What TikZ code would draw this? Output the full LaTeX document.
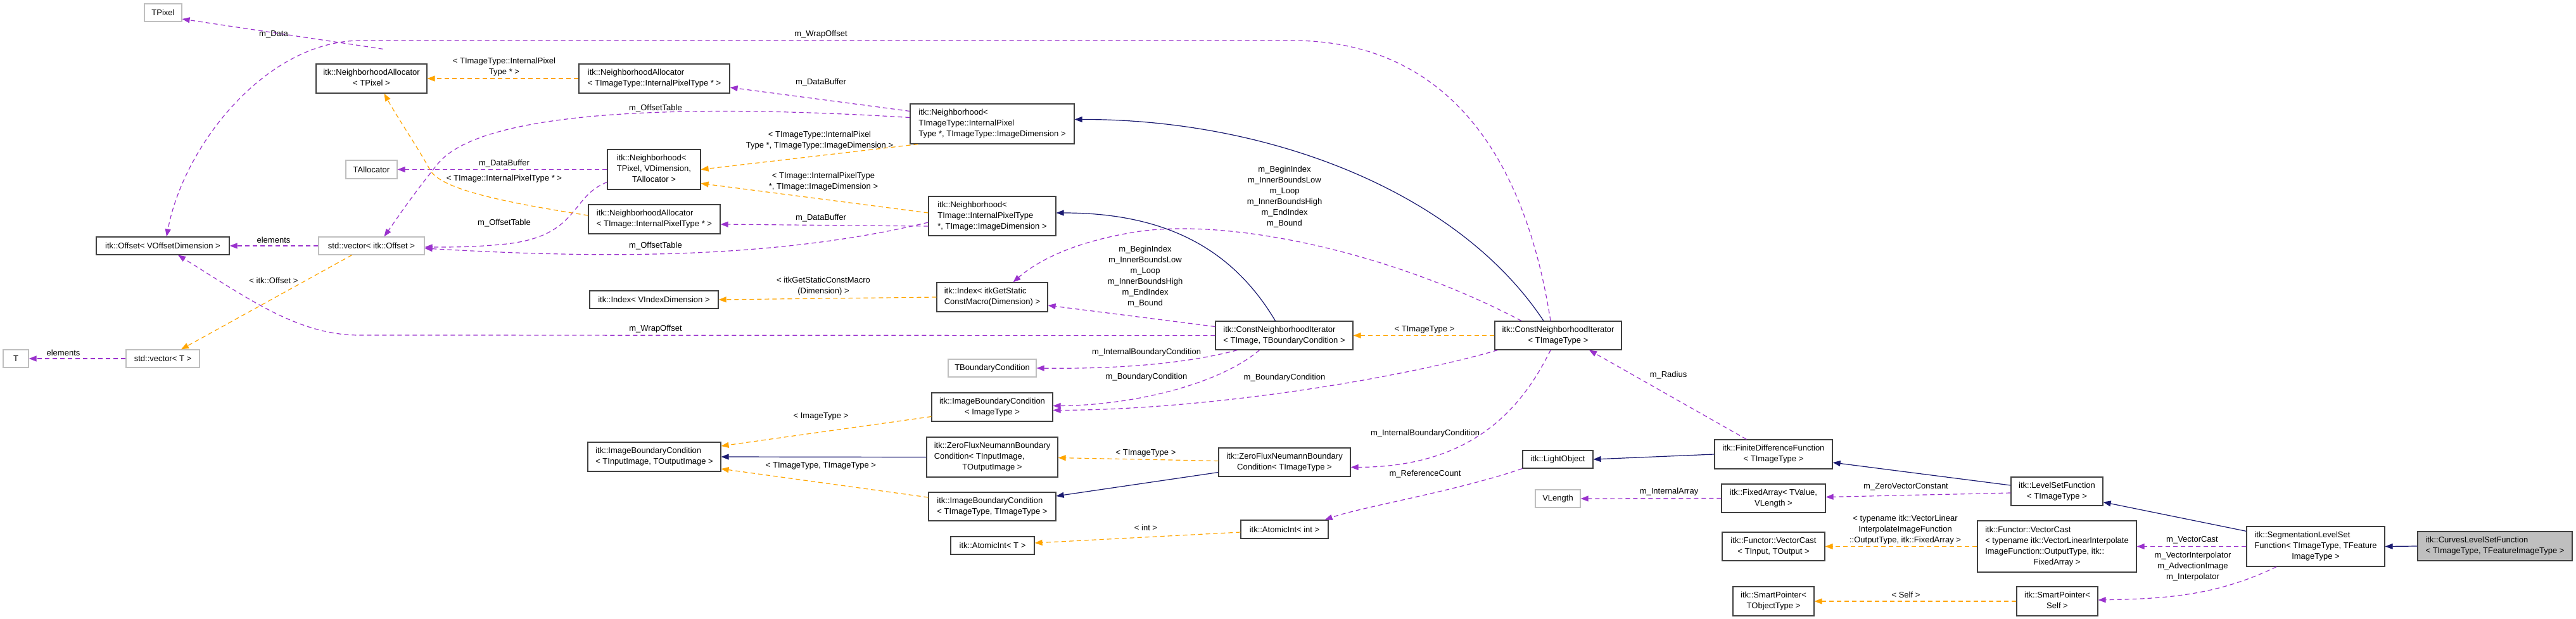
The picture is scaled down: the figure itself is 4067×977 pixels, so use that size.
\documentclass[tikz,border=0pt]{standalone}
\usepackage{fontspec}
\setmainfont{Liberation Sans}
\usetikzlibrary{arrows.meta}
\definecolor{pur}{HTML}{9A32CD}
\definecolor{org}{HTML}{FFA500}
\definecolor{nav}{HTML}{191970}
\definecolor{gbd}{HTML}{BFBFBF}
\newcommand\mylines[2]{\begin{tabular}{@{}l@{}}#1\\\multicolumn{1}{@{}c@{}}{#2}\end{tabular}}
\begin{document}
\begin{tikzpicture}[x=1pt,y=-1pt,
  every node/.style={font=\fontsize{13}{17}\selectfont},
  box/.style={draw=black!75,line width=1.2pt,fill=white,inner sep=0pt,align=center},
  gbox/.style={box,draw=gbd},
  mbox/.style={box,fill=gbd},
  lbl/.style={align=center,inner sep=0pt},
  tip/.style={-{Triangle[length=12pt,width=9pt]}},
  use/.style={tip,draw=pur,line width=1.2pt,dash pattern=on 7pt off 5pt},
  tpl/.style={tip,draw=org,line width=1.2pt,dash pattern=on 7pt off 5pt},
  inh/.style={tip,draw=nav,line width=1.2pt}]
\useasboundingbox (0,0) rectangle (4067,977);
% nodes
\node[gbox,minimum width=59pt,minimum height=28pt] (tpix) at (257.5,20) {TPixel};
\node[box,minimum width=175pt,minimum height=46pt] (naP) at (586.5,124) {\mylines{itk::NeighborhoodAllocator}{< TPixel >}};
\node[gbox,minimum width=81pt,minimum height=29pt] (talloc) at (586.5,267.5) {TAllocator};
\node[box,minimum width=210pt,minimum height=28pt] (off) at (257,388) {itk::Offset< VOffsetDimension >};
\node[gbox,minimum width=167pt,minimum height=28pt] (vecO) at (586.5,388) {std::vector< itk::Offset >};
\node[gbox,minimum width=40pt,minimum height=28pt] (T) at (25,566) {T};
\node[gbox,minimum width=116pt,minimum height=28pt] (vecT) at (257,566) {std::vector< T >};
\node[box,minimum width=238pt,minimum height=46pt] (naT) at (1033,124) {\mylines{itk::NeighborhoodAllocator}{< TImageType::InternalPixelType * >}};
\node[box,minimum width=147pt,minimum height=63pt] (nbhP) at (1032.5,267.5) {\mylines{itk::Neighborhood<\\ TPixel, VDimension,}{TAllocator >}};
\node[box,minimum width=208pt,minimum height=46pt] (naI) at (1033,346) {\mylines{itk::NeighborhoodAllocator}{< TImage::InternalPixelType * >}};
\node[box,minimum width=203pt,minimum height=28pt] (idxV) at (1032.5,473) {itk::Index< VIndexDimension >};
\node[box,minimum width=210pt,minimum height=46pt] (ibcIO) at (1033,721) {\mylines{itk::ImageBoundaryCondition}{< TInputImage, TOutputImage >}};
\node[box,minimum width=259pt,minimum height=63pt] (nbhT) at (1566.5,195.5) {\mylines{itk::Neighborhood<\\ TImageType::InternalPixel}{Type *, TImageType::ImageDimension >}};
\node[box,minimum width=201pt,minimum height=62pt] (nbhI) at (1566.5,341) {\mylines{itk::Neighborhood<\\ TImage::InternalPixelType}{*, TImage::ImageDimension >}};
\node[box,minimum width=175pt,minimum height=46pt] (idxG) at (1566.5,469) {\mylines{itk::Index< itkGetStatic}{ConstMacro(Dimension) >}};
\node[gbox,minimum width=139pt,minimum height=28pt] (tbc) at (1566.5,581) {TBoundaryCondition};
\node[box,minimum width=191pt,minimum height=45pt] (ibcI) at (1566.5,642.5) {\mylines{itk::ImageBoundaryCondition}{< ImageType >}};
\node[box,minimum width=207pt,minimum height=63pt] (zfIO) at (1566.5,721.5) {\mylines{itk::ZeroFluxNeumannBoundary\\Condition< TInputImage,}{TOutputImage >}};
\node[box,minimum width=201pt,minimum height=45pt] (ibcTT) at (1566.5,799.5) {\mylines{itk::ImageBoundaryCondition}{< TImageType, TImageType >}};
\node[box,minimum width=132pt,minimum height=28pt] (aiT) at (1567,861) {itk::AtomicInt< T >};
\node[box,minimum width=217pt,minimum height=45pt] (cniTB) at (2027.5,529.5) {\mylines{itk::ConstNeighborhoodIterator}{< TImage, TBoundaryCondition >}};
\node[box,minimum width=208pt,minimum height=45pt] (zfT) at (2028,729.5) {\mylines{itk::ZeroFluxNeumannBoundary}{Condition< TImageType >}};
\node[box,minimum width=138pt,minimum height=29pt] (aiInt) at (2028,835.5) {itk::AtomicInt< int >};
\node[box,minimum width=200pt,minimum height=45pt] (cniT) at (2460,529.5) {\mylines{itk::ConstNeighborhoodIterator}{< TImageType >}};
\node[box,minimum width=111pt,minimum height=28pt] (lo) at (2459.5,725) {itk::LightObject};
\node[gbox,minimum width=71pt,minimum height=28pt] (vl) at (2459.5,787) {VLength};
\node[box,minimum width=186pt,minimum height=46pt] (fd) at (2800,717) {\mylines{itk::FiniteDifferenceFunction}{< TImageType >}};
\node[box,minimum width=164pt,minimum height=45pt] (fa) at (2800,786.5) {\mylines{itk::FixedArray< TValue,}{VLength >}};
\node[box,minimum width=162pt,minimum height=45pt] (vcT) at (2800,862.5) {\mylines{itk::Functor::VectorCast}{< TInput, TOutput >}};
\node[box,minimum width=128pt,minimum height=46pt] (spO) at (2800,949) {\mylines{itk::SmartPointer<}{TObjectType >}};
\node[box,minimum width=145pt,minimum height=45pt] (lsf) at (3247.5,775.5) {\mylines{itk::LevelSetFunction}{< TImageType >}};
\node[box,minimum width=251pt,minimum height=81pt] (vcI) at (3247.5,862.5) {\mylines{itk::Functor::VectorCast\\< typename itk::VectorLinearInterpolate\\ImageFunction::OutputType, itk::}{FixedArray >}};
\node[box,minimum width=128pt,minimum height=46pt] (spS) at (3248,949) {\mylines{itk::SmartPointer<}{Self >}};
\node[box,minimum width=218pt,minimum height=63pt] (seg) at (3656,862.5) {\mylines{itk::SegmentationLevelSet\\Function< TImageType, TFeature}{ImageType >}};
\node[mbox,minimum width=244pt,minimum height=46pt] (curves) at (3939,862) {\mylines{itk::CurvesLevelSetFunction}{< TImageType, TFeatureImageType >}};
% edges
\draw[use] ([xshift=-70pt,yshift=23pt]naP.north east) -- ([yshift=-10pt]tpix.east);
\node[lbl] (l1) at (432,54) {m\_Data};
\draw[use] ([xshift=-12pt]cniT.north) .. controls (2400,200) and (2250,64) .. (2040,64) -- (570,64) .. controls (420,64) and (290,230) .. ([xshift=6pt]off.north);
\node[lbl] (l2) at (1296,54) {m\_WrapOffset};
\draw[use] (cniTB.west) -- (567,529) .. controls (470,529) and (390,470) .. ([xshift=24pt]off.south);
\node[lbl] (l3) at (1035,519) {m\_WrapOffset};
\draw[use] (vecO.west) -- (off.east);
\node[lbl] (l4) at (432,379) {elements};
\draw[use] ([yshift=10pt]nbhT.west) .. controls (1100,165) and (760,170) .. (690,260) .. controls (650,310) and (630,340) .. ([xshift=20pt]vecO.north);
\node[lbl] (l5) at (1035,171) {m\_OffsetTable};
\draw[use] ([yshift=-20pt]nbhP.west) .. controls (900,310) and (915,372) .. (800,385) .. controls (750,390) and (720,390) .. ([yshift=-2pt]vecO.east);
\node[lbl] (l6) at (796,352) {m\_OffsetTable};
\draw[use] ([yshift=-10pt]nbhI.west) .. controls (1200,415) and (900,405) .. ([yshift=-4pt]vecO.east);
\node[lbl] (l7) at (1035,388) {m\_OffsetTable};
\draw[use] (nbhP.west) -- (talloc.east);
\node[lbl] (l8) at (796,258) {m\_DataBuffer};
\draw[tpl] (naT.west) -- (naP.east);
\node[lbl] (l9) at (796,106) {< TImageType::InternalPixel\\Type * >};
\draw[tpl] ([yshift=6pt]naI.west) .. controls (800,320) and (700,300) .. (680,270) .. controls (655,225) and (630,190) .. ([xshift=20pt]naP.south);
\node[lbl] (l10) at (796,282) {< TImage::InternalPixelType * >};
\draw[use] ([yshift=20pt]nbhT.west) -- ([yshift=-14pt]naT.east);
\node[lbl] (l11) at (1296,130) {m\_DataBuffer};
\draw[tpl] ([xshift=13pt]nbhT.south west) -- (nbhP.east);
\node[lbl] (l12) at (1294,222) {< TImageType::InternalPixel\\Type *, TImageType::ImageDimension >};
\draw[tpl] ([yshift=5pt]nbhI.west) -- ([yshift=-22pt]nbhP.east);
\node[lbl] (l13) at (1300,287) {< TImage::InternalPixelType\\*, TImage::ImageDimension >};
\draw[use] ([yshift=-16pt]nbhI.west) -- ([yshift=-8pt]naI.east);
\node[lbl] (l14) at (1296,344) {m\_DataBuffer};
\draw[tpl] (idxG.west) -- (idxV.east);
\node[lbl] (l15) at (1300,452) {< itkGetStaticConstMacro\\(Dimension) >};
\draw[inh] ([xshift=-23pt]cniT.north) .. controls (2300,300) and (2000,188) .. ([yshift=7pt]nbhT.east);
\draw[inh] ([xshift=-14pt]cniTB.north) .. controls (1950,400) and (1850,336) .. ([yshift=5pt]nbhI.east);
\draw[use] ([yshift=14pt]cniTB.west) -- ([yshift=-13pt]idxG.east);
\node[lbl] (l16) at (1808,437) {m\_BeginIndex\\m\_InnerBoundsLow\\m\_Loop\\m\_InnerBoundsHigh\\m\_EndIndex\\m\_Bound};
\draw[use] ([xshift=-58pt]cniT.north) .. controls (2200,400) and (1950,345) .. (1800,365) .. controls (1700,380) and (1640,410) .. ([xshift=33pt]idxG.north);
\node[lbl] (l17) at (2028,311) {m\_BeginIndex\\m\_InnerBoundsLow\\m\_Loop\\m\_InnerBoundsHigh\\m\_EndIndex\\m\_Bound};
\draw[use] ([xshift=-74pt]cniTB.south) .. controls (1850,580) and (1720,582) .. (tbc.east);
\node[lbl] (l18) at (1810,556) {m\_InternalBoundaryCondition};
\draw[use] ([xshift=-39pt]cniTB.south) .. controls (1920,610) and (1780,640) .. ([yshift=2pt]ibcI.east);
\node[lbl] (l19) at (1810,595) {m\_BoundaryCondition};
\draw[use] ([xshift=5pt]cniT.south west) .. controls (2200,600) and (1900,647) .. ([yshift=-5pt]ibcI.east);
\node[lbl] (l20) at (2028,596) {m\_BoundaryCondition};
\draw[tpl] (cniT.west) -- (cniTB.east);
\node[lbl] (l21) at (2249,520) {< TImageType >};
\draw[use] ([xshift=-12pt]cniT.south) .. controls (2400,650) and (2320,737) .. ([yshift=-8pt]zfT.east);
\node[lbl] (l22) at (2250,684) {m\_InternalBoundaryCondition};
\draw[use] ([xshift=51pt]fd.north west) -- ([xshift=49pt]cniT.south);
\node[lbl] (l23) at (2634,592) {m\_Radius};
\draw[tpl] ([yshift=-15pt]ibcI.west) -- ([yshift=17pt]ibcIO.east);
\node[lbl] (l24) at (1296,657) {< ImageType >};
\draw[inh] (zfIO.west) -- (ibcIO.east);
\draw[tpl] ([yshift=14.5pt]ibcTT.west) -- ([yshift=-19pt]ibcIO.east);
\node[lbl] (l26) at (1296,735) {< TImageType, TImageType >};
\draw[tpl] ([yshift=2pt]zfT.west) -- ([yshift=-1pt]zfIO.east);
\node[lbl] (l27) at (1809,715) {< TImageType >};
\draw[inh] ([yshift=-16pt]zfT.west) -- ([yshift=16.5pt]ibcTT.east);
\draw[tpl] ([yshift=-4.5pt]aiInt.west) -- ([yshift=4pt]aiT.east);
\node[lbl] (l29) at (1809,833) {< int >};
\draw[use] (lo.south west) .. controls (2300,775) and (2150,800) .. ([xshift=-6pt]aiInt.north east);
\node[lbl] (l30) at (2250,748) {m\_ReferenceCount};
\draw[inh] (fd.west) -- (lo.east);
\draw[use] (fa.west) -- (vl.east);
\node[lbl] (l32) at (2635,776) {m\_InternalArray};
\draw[inh] ([yshift=9.5pt]lsf.west) -- ([yshift=-13pt]fd.east);
\draw[use] ([yshift=-2.5pt]lsf.west) -- ([yshift=2pt]fa.east);
\node[lbl] (l34) at (3009,768) {m\_ZeroVectorConstant};
\draw[inh] ([yshift=-8pt]seg.north west) -- ([yshift=-17pt]lsf.east);
\draw[tpl] (vcI.west) -- (vcT.east);
\node[lbl] (l36) at (3008,836) {< typename itk::VectorLinear\\InterpolateImageFunction\\::OutputType, itk::FixedArray >};
\draw[use] (seg.west) -- (vcI.east);
\node[lbl] (l37) at (3461,852) {m\_VectorCast};
\draw[tpl] (spS.west) -- (spO.east);
\node[lbl] (l38) at (3009,939) {< Self >};
\draw[use] ([xshift=-62pt]seg.south) .. controls (3500,940) and (3420,945) .. ([yshift=2pt]spS.east);
\node[lbl] (l39) at (3462,894) {m\_VectorInterpolator\\m\_AdvectionImage\\m\_Interpolator};
\draw[inh] (curves.west) -- (seg.east);
\draw[tpl] ([xshift=-31pt]vecO.south) -- ([xshift=29pt]vecT.north);
\node[lbl] (l41) at (432,443) {< itk::Offset >};
\draw[use] (vecT.west) -- (T.east);
\node[lbl] (l42) at (100,557) {elements};
\end{tikzpicture}
\end{document}
